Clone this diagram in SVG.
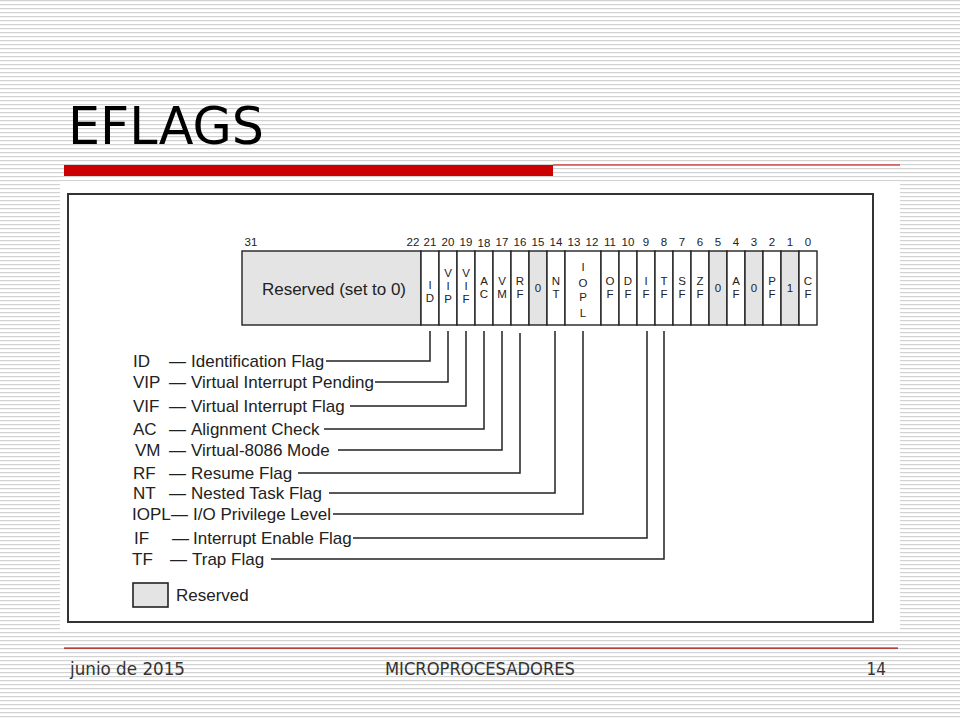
<svg xmlns="http://www.w3.org/2000/svg" width="960" height="720" viewBox="0 0 960 720">
<defs>
<pattern id="stripes" width="8" height="4" patternUnits="userSpaceOnUse">
<rect width="8" height="4" fill="#ffffff"/>
<rect y="0" width="8" height="1.2" fill="#d2d2d2"/>
</pattern>
<style>
.num{font-family:"Liberation Sans",Arial,sans-serif;font-size:11.5px;fill:#222;text-anchor:middle}
.cell{fill:#ffffff;stroke:#222;stroke-width:1.4}
.res{fill:#e4e4e4;stroke:#222;stroke-width:1.4}
.lt{font-family:"Liberation Sans",Arial,sans-serif;font-size:11.5px;fill:#222;text-anchor:middle}
.lg{font-family:"Liberation Sans",Arial,sans-serif;font-size:17px;fill:#222}
.ld{fill:none;stroke:#222;stroke-width:1.5}
.ft{font-family:"DejaVu Sans Condensed","DejaVu Sans",sans-serif;font-size:17px;fill:#333}
</style>
</defs>
<rect width="960" height="720" fill="url(#stripes)"/>
<rect x="60" y="181" width="840" height="450" fill="#ffffff"/>
<g id="title">
<text x="68" y="144" font-family="DejaVu Sans, sans-serif" font-size="51" fill="#000" textLength="196" lengthAdjust="spacingAndGlyphs">EFLAGS</text>
<rect x="64" y="165" width="489" height="11" fill="#cc0000"/>
<rect x="553" y="164.5" width="347" height="1" fill="#cc0000"/>
</g>
<rect id="frame" x="68" y="194" width="805" height="428" fill="#ffffff" stroke="#333" stroke-width="2"/>
<g id="bit-numbers">
<text class="num" x="251" y="246">31</text>
<text class="num" x="413" y="246">22</text>
<text class="num" x="430" y="246">21</text>
<text class="num" x="448" y="246">20</text>
<text class="num" x="466" y="246">19</text>
<text class="num" x="484" y="247">18</text>
<text class="num" x="502" y="246">17</text>
<text class="num" x="520" y="246">16</text>
<text class="num" x="538" y="246">15</text>
<text class="num" x="556" y="246">14</text>
<text class="num" x="574" y="246">13</text>
<text class="num" x="592" y="246">12</text>
<text class="num" x="610" y="246">11</text>
<text class="num" x="628" y="246">10</text>
<text class="num" x="646" y="246">9</text>
<text class="num" x="664" y="246">8</text>
<text class="num" x="682" y="246">7</text>
<text class="num" x="700" y="246">6</text>
<text class="num" x="718" y="246">5</text>
<text class="num" x="736" y="246">4</text>
<text class="num" x="754" y="246">3</text>
<text class="num" x="772" y="246">2</text>
<text class="num" x="790" y="246">1</text>
<text class="num" x="808" y="246">0</text>
</g>
<g id="reserved-high">
<rect class="res" x="242" y="251" width="179" height="74"/>
<text x="262" y="295" font-family="Liberation Sans, Arial, sans-serif" font-size="17" fill="#222" textLength="144">Reserved (set to 0)</text>
</g>
<g id="bit21-ID"><rect class="cell" x="421" y="251" width="18" height="74"/><text class="lt"><tspan x="430" y="289">I</tspan><tspan x="430" dy="13">D</tspan></text></g>
<g id="bit20-VIP"><rect class="cell" x="439" y="251" width="18" height="74"/><text class="lt"><tspan x="448" y="277">V</tspan><tspan x="448" dy="13">I</tspan><tspan x="448" dy="13">P</tspan></text></g>
<g id="bit19-VIF"><rect class="cell" x="457" y="251" width="18" height="74"/><text class="lt"><tspan x="466" y="277">V</tspan><tspan x="466" dy="13">I</tspan><tspan x="466" dy="13">F</tspan></text></g>
<g id="bit18-AC"><rect class="cell" x="475" y="251" width="18" height="74"/><text class="lt"><tspan x="484" y="285">A</tspan><tspan x="484" dy="13">C</tspan></text></g>
<g id="bit17-VM"><rect class="cell" x="493" y="251" width="18" height="74"/><text class="lt"><tspan x="502" y="285">V</tspan><tspan x="502" dy="13">M</tspan></text></g>
<g id="bit16-RF"><rect class="cell" x="511" y="251" width="18" height="74"/><text class="lt"><tspan x="520" y="285">R</tspan><tspan x="520" dy="13">F</tspan></text></g>
<g id="bit15-0"><rect class="res" x="529" y="251" width="18" height="74"/><text class="lt" x="538" y="292">0</text></g>
<g id="bit14-NT"><rect class="cell" x="547" y="251" width="18" height="74"/><text class="lt"><tspan x="556" y="285">N</tspan><tspan x="556" dy="13">T</tspan></text></g>
<g id="bit13-12-IOPL"><rect class="cell" x="565" y="251" width="36" height="74"/><text class="lt"><tspan x="583" y="271">I</tspan><tspan x="583" dy="16">O</tspan><tspan x="583" dy="14">P</tspan><tspan x="583" dy="16">L</tspan></text></g>
<g id="bit11-OF"><rect class="cell" x="601" y="251" width="18" height="74"/><text class="lt"><tspan x="610" y="285">O</tspan><tspan x="610" dy="13">F</tspan></text></g>
<g id="bit10-DF"><rect class="cell" x="619" y="251" width="18" height="74"/><text class="lt"><tspan x="628" y="285">D</tspan><tspan x="628" dy="13">F</tspan></text></g>
<g id="bit9-IF"><rect class="cell" x="637" y="251" width="18" height="74"/><text class="lt"><tspan x="646" y="285">I</tspan><tspan x="646" dy="13">F</tspan></text></g>
<g id="bit8-TF"><rect class="cell" x="655" y="251" width="18" height="74"/><text class="lt"><tspan x="664" y="285">T</tspan><tspan x="664" dy="13">F</tspan></text></g>
<g id="bit7-SF"><rect class="cell" x="673" y="251" width="18" height="74"/><text class="lt"><tspan x="682" y="285">S</tspan><tspan x="682" dy="13">F</tspan></text></g>
<g id="bit6-ZF"><rect class="cell" x="691" y="251" width="18" height="74"/><text class="lt"><tspan x="700" y="285">Z</tspan><tspan x="700" dy="13">F</tspan></text></g>
<g id="bit5-0"><rect class="res" x="709" y="251" width="18" height="74"/><text class="lt" x="718" y="292">0</text></g>
<g id="bit4-AF"><rect class="cell" x="727" y="251" width="18" height="74"/><text class="lt"><tspan x="736" y="285">A</tspan><tspan x="736" dy="13">F</tspan></text></g>
<g id="bit3-0"><rect class="res" x="745" y="251" width="18" height="74"/><text class="lt" x="754" y="292">0</text></g>
<g id="bit2-PF"><rect class="cell" x="763" y="251" width="18" height="74"/><text class="lt"><tspan x="772" y="285">P</tspan><tspan x="772" dy="13">F</tspan></text></g>
<g id="bit1-1"><rect class="res" x="781" y="251" width="18" height="74"/><text class="lt" x="790" y="292">1</text></g>
<g id="bit0-CF"><rect class="cell" x="799" y="251" width="18" height="74"/><text class="lt"><tspan x="808" y="285">C</tspan><tspan x="808" dy="13">F</tspan></text></g>
<g id="legend-ID"><text class="lg" x="133" y="367">ID</text><text class="lg" x="169" y="367">—</text><text class="lg" x="191" y="367">Identification Flag</text></g>
<g id="legend-VIP"><text class="lg" x="133" y="388">VIP</text><text class="lg" x="169" y="388">—</text><text class="lg" x="191" y="388">Virtual Interrupt Pending</text></g>
<g id="legend-VIF"><text class="lg" x="133" y="412">VIF</text><text class="lg" x="169" y="412">—</text><text class="lg" x="191" y="412">Virtual Interrupt Flag</text></g>
<g id="legend-AC"><text class="lg" x="133" y="435">AC</text><text class="lg" x="169" y="435">—</text><text class="lg" x="191" y="435">Alignment Check</text></g>
<g id="legend-VM"><text class="lg" x="135" y="456">VM</text><text class="lg" x="169" y="456">—</text><text class="lg" x="191" y="456">Virtual-8086 Mode</text></g>
<g id="legend-RF"><text class="lg" x="133" y="479">RF</text><text class="lg" x="169" y="479">—</text><text class="lg" x="191" y="479">Resume Flag</text></g>
<g id="legend-NT"><text class="lg" x="133" y="499">NT</text><text class="lg" x="169" y="499">—</text><text class="lg" x="191" y="499">Nested Task Flag</text></g>
<g id="legend-IOPL"><text class="lg" x="132" y="520">IOPL</text><text class="lg" x="171" y="520">—</text><text class="lg" x="193" y="520">I/O Privilege Level</text></g>
<g id="legend-IF"><text class="lg" x="134" y="544">IF</text><text class="lg" x="172" y="544">—</text><text class="lg" x="193" y="544">Interrupt Enable Flag</text></g>
<g id="legend-TF"><text class="lg" x="132" y="565">TF</text><text class="lg" x="170" y="565">—</text><text class="lg" x="192" y="565">Trap Flag</text></g>
<g id="legend-reserved"><rect x="133" y="583" width="35" height="24" fill="#e4e4e4" stroke="#222" stroke-width="1.6"/><text class="lg" x="176" y="601">Reserved</text></g>
<g id="connectors">
<polyline class="ld" points="430,331 430,361 326,361"/>
<polyline class="ld" points="448,331 448,382 375,382"/>
<polyline class="ld" points="466,331 466,406 350,406"/>
<polyline class="ld" points="484,331 484,429 324,429"/>
<polyline class="ld" points="502,331 502,450 338,450"/>
<polyline class="ld" points="520,333 520,473 298,473"/>
<polyline class="ld" points="555,331 555,493 329,493"/>
<polyline class="ld" points="583,331 583,514 333,514"/>
<polyline class="ld" points="647,331 647,538 353,538"/>
<polyline class="ld" points="664,331 664,559 271,559"/>
</g>
<g id="footer">
<rect x="64" y="647.5" width="834" height="1.2" fill="#a40000"/>
<text class="ft" x="70" y="675" textLength="115" lengthAdjust="spacingAndGlyphs">junio de 2015</text>
<text class="ft" x="385" y="675" textLength="190" lengthAdjust="spacingAndGlyphs">MICROPROCESADORES</text>
<text class="ft" x="886" y="675" text-anchor="end">14</text>
</g>
</svg>
